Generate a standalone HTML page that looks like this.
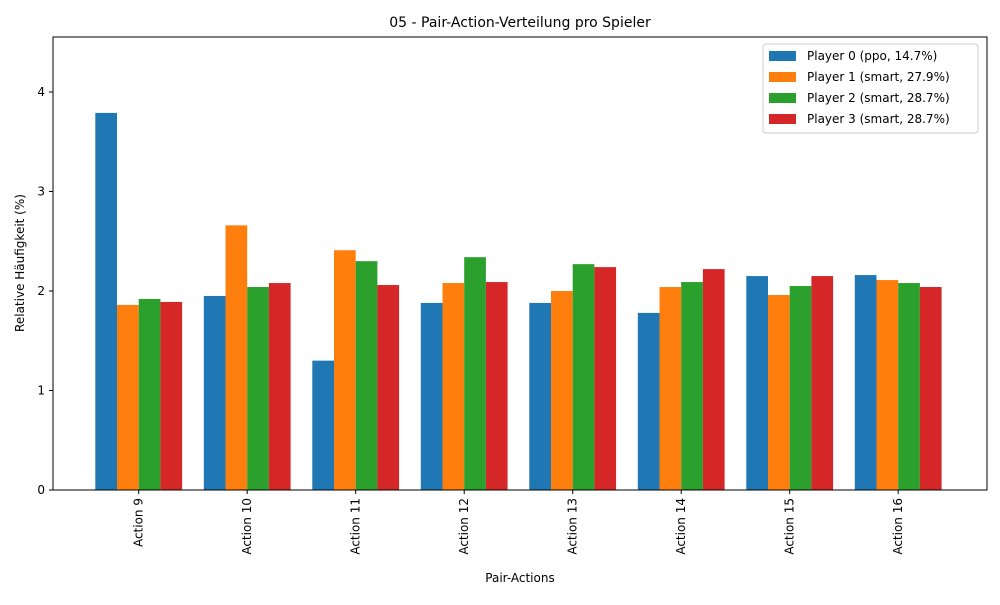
<!DOCTYPE html>
<html><head><meta charset="utf-8"><style>body{margin:0;background:#fff}svg{font-family:"DejaVu Sans","Liberation Sans",sans-serif}</style></head>
<body>
<svg id="chart" width="1000" height="600" xmlns="http://www.w3.org/2000/svg">
<rect width="1000" height="600" fill="#fff"/>
<text x="520" y="27" text-anchor="middle" font-size="14">05 - Pair-Action-Verteilung pro Spieler</text>
<g id="bars"></g>
<g id="axes"></g>
<rect x="53" y="37" width="934" height="453" fill="none" stroke="#000" stroke-width="1"/>
<text x="520" y="582" text-anchor="middle" font-size="12">Pair-Actions</text>
<text x="24" y="263" text-anchor="middle" font-size="12" transform="rotate(-90 24 263)">Relative Häufigkeit (%)</text>
<g id="legend"></g>
</svg>
<script>
const categories=["Action 9","Action 10","Action 11","Action 12","Action 13","Action 14","Action 15","Action 16"];
const seriesNames=["Player 0 (ppo, 14.7%)","Player 1 (smart, 27.9%)","Player 2 (smart, 28.7%)","Player 3 (smart, 28.7%)"];
const p0=[3.79,1.95,1.30,1.88,1.88,1.78,2.15,2.16];
const p1=[1.86,2.66,2.41,2.08,2.00,2.04,1.96,2.11];
const p2=[1.92,2.04,2.30,2.34,2.27,2.09,2.05,2.08];
const p3=[1.89,2.08,2.06,2.09,2.24,2.22,2.15,2.04];
const yTicks=[0,1,2,3,4];
const colors=["#1f77b4","#ff7f0e","#2ca02c","#d62728"];
const series=[p0,p1,p2,p3];
const NS="http://www.w3.org/2000/svg";
const y=v=>490-v*99.5;
const x=i=>138.7+108.5*i;
const bw=21.7;
const bars=document.getElementById('bars');
series.forEach((s,k)=>s.forEach((v,i)=>{
 const r=document.createElementNS(NS,'rect');
 r.setAttribute('x',x(i)+(k-2)*bw);r.setAttribute('y',y(v));
 r.setAttribute('width',bw);r.setAttribute('height',y(0)-y(v));
 r.setAttribute('fill',colors[k]);
 
 
 bars.appendChild(r);
}));
const ax=document.getElementById('axes');
yTicks.forEach(t=>{
 const l=document.createElementNS(NS,'line');
 l.setAttribute('x1',49);l.setAttribute('x2',53);l.setAttribute('y1',y(t));l.setAttribute('y2',y(t));l.setAttribute('stroke','#000');
 
 
 ax.appendChild(l);
 const tx=document.createElementNS(NS,'text');
 tx.setAttribute('x',45);tx.setAttribute('y',y(t)+4);tx.setAttribute('text-anchor','end');tx.setAttribute('font-size','12');
 tx.textContent=t;
 
 
 ax.appendChild(tx);
});
categories.forEach((c,i)=>{
 const l=document.createElementNS(NS,'line');
 l.setAttribute('x1',x(i));l.setAttribute('x2',x(i));l.setAttribute('y1',490);l.setAttribute('y2',494);l.setAttribute('stroke','#000');
 
 
 ax.appendChild(l);
 const tx=document.createElementNS(NS,'text');
 const tx0=x(i)+4,ty=498;
 tx.setAttribute('x',tx0);tx.setAttribute('y',ty);tx.setAttribute('text-anchor','end');tx.setAttribute('font-size','12');
 tx.setAttribute('transform','rotate(-90 '+tx0+' '+ty+')');
 tx.textContent=c;
 
 
 ax.appendChild(tx);
});
const lg=document.getElementById('legend');
const box=document.createElementNS(NS,'rect');
box.setAttribute('x',763);box.setAttribute('y',44);box.setAttribute('width',215);box.setAttribute('height',89);box.setAttribute('rx',3);
box.setAttribute('fill','#fff');box.setAttribute('stroke','#ccc');


lg.appendChild(box);
seriesNames.forEach((n,k)=>{
 const yy=56+k*21;
 const r=document.createElementNS(NS,'rect');
 r.setAttribute('x',769);r.setAttribute('y',yy-5);r.setAttribute('width',27);r.setAttribute('height',10);r.setAttribute('fill',colors[k]);
 
 
 lg.appendChild(r);
 const t=document.createElementNS(NS,'text');
 t.setAttribute('x',807);t.setAttribute('y',yy+4);t.setAttribute('font-size','12');t.textContent=n;
 
 
 lg.appendChild(t);
});
</script>
</body></html>
